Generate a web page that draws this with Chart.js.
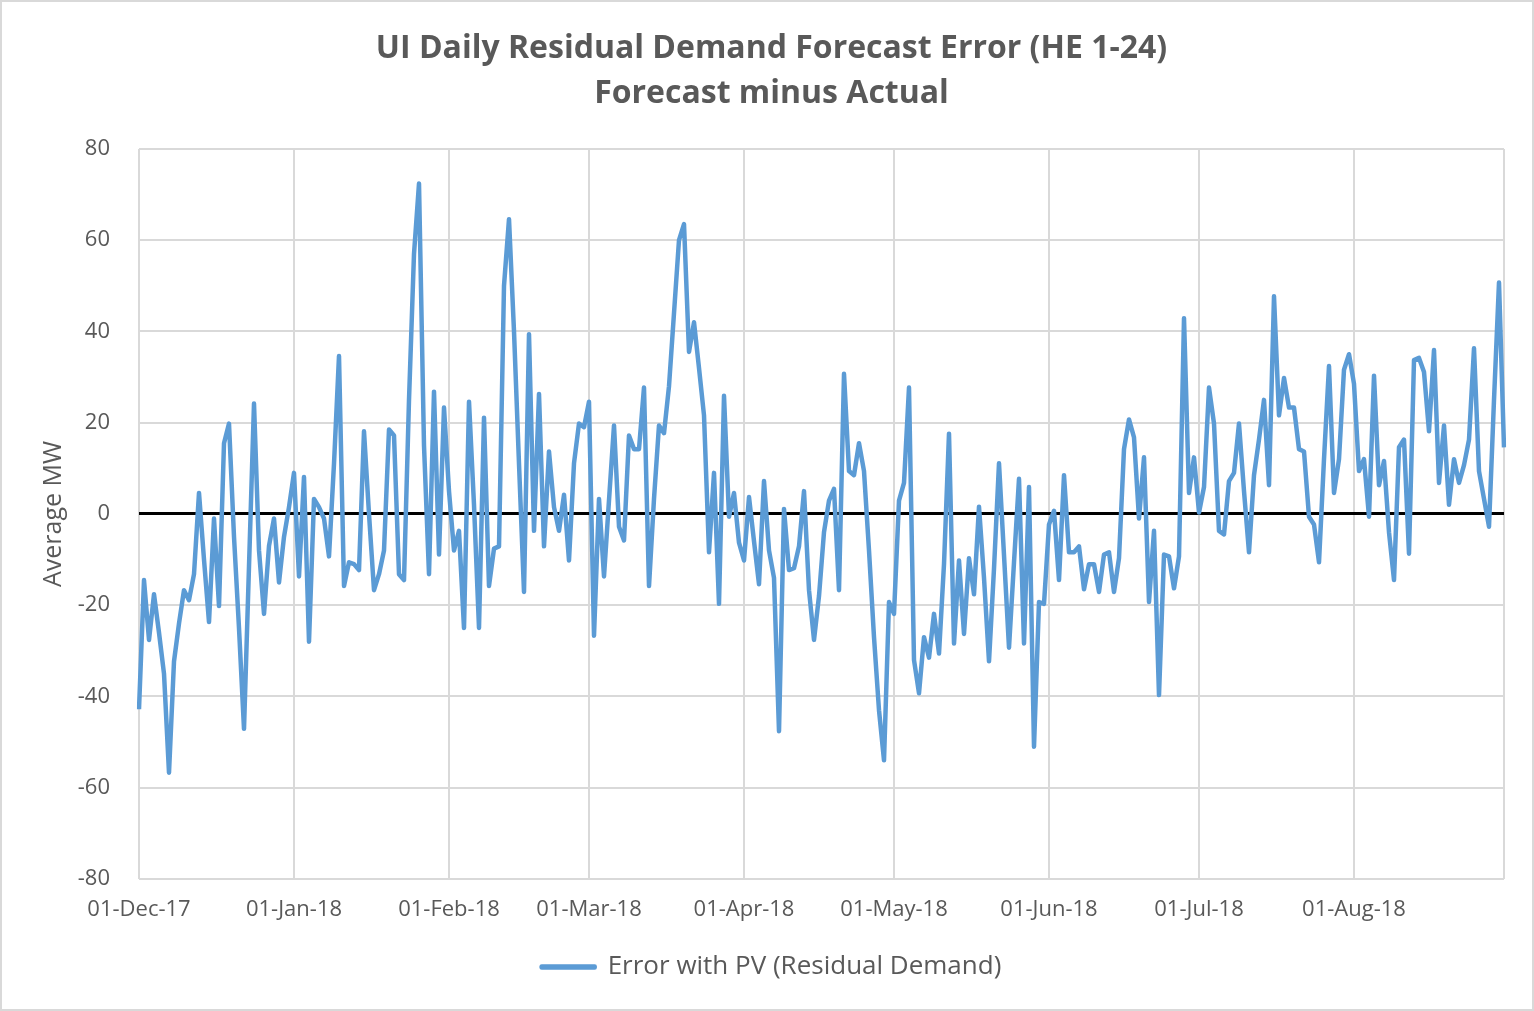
<!DOCTYPE html>
<html>
<head>
<meta charset="utf-8">
<script src="https://cdn.jsdelivr.net/npm/chart.js@4"></script>
<style>
  html, body { margin: 0; padding: 0; background: #fff; }
  #wrap { width: 1534px; height: 1011px; }
</style>
</head>
<body>
<div id="wrap"><canvas id="chart" width="1534" height="1011"></canvas></div>
<script>
// daily error (MW), one array per month
const dec17 = [-42.8, -14.5, -27.6, -17.6, -26, -35, -56.7, -32.3, -24, -16.7, -18.9, -13.2, 4.6, -10, -23.7, -1, -20.2, 15.5, 19.8, -5, -25, -47.1, -11.5, 24.2, -8, -21.9, -7, -1, -15, -5, 1.5];
const jan18 = [9, -13.7, 8.1, -28, 3.3, 1.5, -1, -9.3, 11, 34.6, -15.8, -10.6, -11, -12.3, 18.1, 0, -16.7, -13.2, -8, 18.5, 17.2, -13.2, -14.5, 25, 57, 72.4, 15, -13.2, 26.8, -8.9, 23.3];
const feb18 = [5, -8, -3.7, -25, 24.6, 2, -25, 21.1, -15.8, -7.6, -7.1, 50, 64.6, 40, 11, -17.1, 39.4, -3.7, 26.3, -7.1, 13.7, 1.5, -3.7, 4.2, -10.2, 11.1, 19.8, 19];
const mar18 = [24.6, -26.7, 3.3, -13.7, 3, 19.4, -2.8, -5.8, 17.2, 14.2, 14.2, 27.7, -15.8, 3.3, 19.4, 17.7, 28, 44, 60, 63.5, 35.5, 42, 32, 21.6, -8.4, 9, -19.7, 25.9, -0.6, 4.6, -6.3];
const apr18 = [-10.2, 3.7, -6, -15.4, 7.2, -8, -14, -47.6, 1.1, -12.3, -11.9, -7.1, 5, -16.7, -27.6, -18, -4, 2.9, 5.5, -16.7, 30.7, 9.4, 8.5, 15.5, 9.4, -8, -27, -43, -54, -19.3];
const may18 = [-21.9, 2.9, 6.8, 27.7, -32, -39.3, -27, -31.5, -21.9, -30.6, -11, 17.6, -28.4, -10.2, -26.3, -9.7, -17.6, 1.6, -14, -32.3, -12, 11.1, -9, -29.3, -10.6, 7.7, -28.4, 5.9, -51, -19.3, -19.7];
const jun18 = [-2.3, 0.7, -14.5, 8.5, -8.4, -8.4, -7.1, -16.5, -11, -11, -17.1, -8.9, -8.4, -17.1, -9.7, 14.2, 20.7, 16.8, -1, 12.4, -19.3, -3.7, -39.7, -8.9, -9.3, -16.3, -9.3, 42.9, 4.6, 12.4];
const jul18 = [0.3, 5.9, 27.7, 19.8, -3.7, -4.5, 7.2, 9, 19.8, 5, -8.4, 8.5, 16.3, 25, 6.3, 47.7, 21.6, 29.8, 23.3, 23.3, 14.2, 13.7, -0.6, -2.3, -10.6, 12, 32.4, 4.6, 12, 31.6, 35];
const aug18 = [28.5, 9.4, 12, -0.6, 30.3, 6.3, 11.6, -4, -14.5, 14.6, 16.3, -8.7, 33.7, 34.2, 31.1, 18.1, 35.9, 6.8, 19.4, 2, 12, 6.8, 10.7, 16.3, 36.3, 9.4, 3.3, -2.8, 25, 50.7, 14.6];

const errorWithPV = [].concat(dec17, jan18, feb18, mar18, apr18, may18, jun18, jul18, aug18);

const monthNames = ["Jan", "Feb", "Mar", "Apr", "May", "Jun", "Jul", "Aug", "Sep", "Oct", "Nov", "Dec"];
const yTicks = [-80, -60, -40, -20, 0, 20, 40, 60, 80];

// one category per day, starting 01-Dec-17
const days = [];
const start = new Date(2017, 11, 1);
for (let i = 0; i < errorWithPV.length; i++) {
    days.push(new Date(start.getFullYear(), start.getMonth(), start.getDate() + i));
}
const labels = days.map(d =>
    String(d.getDate()).padStart(2, "0") + "-" + monthNames[d.getMonth()] + "-" + String(d.getFullYear()).slice(2));

const textColor = "#595959";
const gridColor = "#d9d9d9";
const font = "'Open Sans', 'DejaVu Sans', sans-serif";

const frame = {
    id: "frame",
    beforeDraw(chart) {
        const c = chart.ctx;
        c.save();
        c.fillStyle = "#fff";
        c.fillRect(0, 0, chart.width, chart.height);
        c.strokeStyle = gridColor;
        c.lineWidth = 2;
        c.strokeRect(1, 1, chart.width - 2, chart.height - 2);
        c.restore();
    }
};

new Chart(document.getElementById("chart"), {
    type: "line",
    data: {
        labels: labels,
        datasets: [{
            label: "Error with PV (Residual Demand)",
            data: errorWithPV,
            borderColor: "#5b9bd5",
            backgroundColor: "#5b9bd5",
            borderWidth: 4.5,
            borderJoinStyle: "round",
            pointRadius: 0,
            tension: 0
        }]
    },
    options: {
        responsive: false,
        animation: false,
        layout: { padding: { top: 26, left: 39, right: 30, bottom: 21 } },
        plugins: {
            title: {
                display: true,
                text: ["UI Daily Residual Demand Forecast Error (HE 1-24)", "Forecast minus Actual"],
                color: textColor,
                font: { family: font, size: 32, weight: "bold", lineHeight: 1.42 },
                padding: { top: 0, bottom: 32 }
            },
            legend: {
                position: "bottom",
                labels: {
                    color: textColor,
                    font: { family: font, size: 26 },
                    boxWidth: 53,
                    boxHeight: 1,
                    padding: 10
                }
            },
            tooltip: { enabled: false }
        },
        scales: {
            x: {
                type: "category",
                afterBuildTicks: scale => {
                    scale.ticks = scale.ticks.filter(t =>
                        days[t.value].getDate() === 1 || t.value === days.length - 1);
                },
                afterFit: scale => { scale.height = 65; },
                ticks: {
                    autoSkip: false,
                    maxRotation: 0,
                    color: textColor,
                    font: { family: font, size: 22 },
                    padding: 18,
                    callback: function (value) {
                        return days[value].getDate() === 1 ? labels[value] : "";
                    }
                },
                grid: { color: gridColor, lineWidth: 2, drawTicks: false },
                border: { display: false }
            },
            y: {
                min: -80,
                max: 80,
                afterBuildTicks: scale => { scale.ticks = yTicks.map(v => ({ value: v })); },
                afterFit: scale => { scale.width = 100; },
                ticks: {
                    color: textColor,
                    font: { family: font, size: 22 },
                    padding: 29
                },
                grid: {
                    drawTicks: false,
                    color: ctx => ctx.tick && ctx.tick.value === 0 ? "#000" : gridColor,
                    lineWidth: ctx => ctx.tick && ctx.tick.value === 0 ? 3 : 2
                },
                border: { display: false },
                title: {
                    display: true,
                    text: "Average MW",
                    color: textColor,
                    font: { family: font, size: 25 },
                    padding: { top: 0, bottom: 0 }
                }
            }
        }
    },
    plugins: [frame]
});
</script>
</body>
</html>
